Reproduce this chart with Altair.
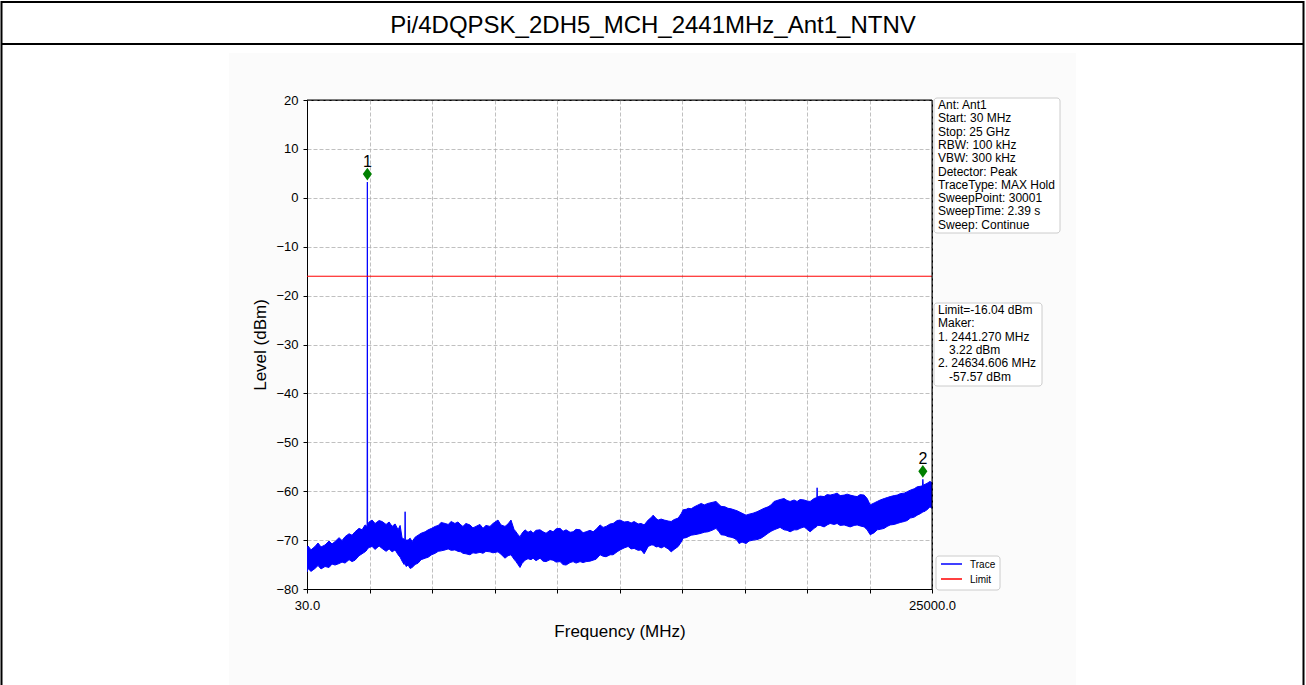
import altair as alt
import pandas as pd

FONT = "Liberation Sans"

# ---- text content -------------------------------------------------------
title_text = "Pi/4DQPSK_2DH5_MCH_2441MHz_Ant1_NTNV"
settings_lines = [
    "Ant: Ant1", "Start: 30 MHz", "Stop: 25 GHz", "RBW: 100 kHz", "VBW: 300 kHz",
    "Detector: Peak", "TraceType: MAX Hold", "SweepPoint: 30001",
    "SweepTime: 2.39 s", "Sweep: Continue",
]
legend_names = ["Trace", "Limit"]
trace_color = "#0000ff"
limit_color = "#ff0000"
marker_color = "#008000"

# ---- measurement data ---------------------------------------------------
# Max-hold trace envelope: frequency (MHz), upper and lower level (dBm)
freq_mhz = [
    30, 70, 190, 350, 470, 590, 750, 910, 1030, 1150, 1310, 1430, 1550, 1710, 1830,
    1950, 2110, 2230, 2350, 2430, 2441.27, 2452, 2510, 2630, 2750, 2910, 3030, 3190,
    3310, 3430, 3550, 3670, 3750, 3830, 3910, 3940, 3950, 3960, 3990, 4070, 4150,
    4230, 4350, 4470, 4590, 4750, 4870, 5010, 5150, 5270, 5390, 5550, 5670, 5790,
    5940, 6060, 6180, 6260, 6380, 6540, 6660, 6780, 6940, 7060, 7180, 7340, 7460,
    7660, 7780, 7940, 8060, 8180, 8300, 8380, 8460, 8540, 8620, 8740, 8860, 8980,
    9060, 9180, 9340, 9460, 9580, 9740, 9860, 9980, 10140, 10260, 10380, 10540,
    10660, 10780, 10940, 11060, 11180, 11340, 11460, 11580, 11740, 11860, 11980,
    12140, 12260, 12420, 12540, 12700, 12860, 12980, 13100, 13260, 13380, 13500,
    13660, 13780, 13860, 13980, 14060, 14180, 14300, 14460, 14580, 14700, 14860,
    14980, 15060, 15180, 15260, 15380, 15500, 15620, 15780, 15900, 16050, 16210,
    16370, 16490, 16570, 16730, 16850, 16970, 17090, 17210, 17290, 17410, 17570,
    17690, 17850, 18010, 18170, 18290, 18450, 18570, 18690, 18930, 19090, 19210,
    19330, 19490, 19610, 19730, 19890, 20010, 20130, 20290, 20400, 20410, 20420,
    20530, 20690, 20810, 20930, 21090, 21210, 21330, 21490, 21610, 21730, 21890,
    22010, 22130, 22290, 22410, 22530, 22690, 22810, 22930, 23090, 23210, 23330,
    23490, 23610, 23730, 23890, 24010, 24130, 24290, 24410, 24530, 24620, 24634.606,
    24650, 24680, 24800, 24920, 25000,
]
upper_dbm = [
    -71.8, -71.2, -72.0, -71.3, -70.6, -71.4, -71.0, -70.2, -70.8, -70.3, -69.5, -70.1,
    -69.3, -68.7, -69.0, -68.3, -67.6, -67.9, -66.9, -67.2, 3.22, -66.8, -66.3, -65.9,
    -66.6, -66.0, -66.2, -66.8, -66.3, -67.2, -66.7, -67.9, -67.0, -69.6, -69.8, -69.9,
    -64.2, -70.1, -70.0, -70.0, -69.6, -70.3, -69.4, -69.0, -68.6, -68.3, -67.9, -67.6,
    -67.2, -67.0, -66.4, -66.6, -66.8, -66.2, -66.6, -66.3, -66.9, -67.2, -66.6, -66.9,
    -67.5, -67.2, -66.8, -67.6, -67.0, -67.2, -66.6, -65.9, -66.9, -67.2, -66.7, -65.9,
    -67.8, -68.3, -68.9, -69.3, -68.6, -67.9, -68.4, -68.1, -68.6, -68.0, -67.9, -68.3,
    -68.6, -68.0, -68.3, -67.7, -67.6, -68.2, -67.9, -68.4, -68.3, -67.8, -67.9, -68.5,
    -68.3, -68.0, -68.3, -67.8, -66.9, -67.4, -67.2, -66.7, -66.6, -66.0, -65.9, -66.3,
    -66.2, -66.5, -66.2, -66.7, -66.6, -66.9, -65.9, -65.4, -64.9, -65.6, -65.9, -65.7,
    -65.9, -66.1, -66.2, -65.8, -65.5, -64.6, -63.8, -63.7, -63.5, -63.6, -63.2, -62.9,
    -62.5, -62.8, -62.5, -62.3, -62.1, -62.7, -63.1, -63.2, -63.5, -63.6, -63.8, -64.0,
    -64.2, -64.5, -64.9, -64.7, -64.5, -64.2, -63.8, -63.5, -63.2, -62.8, -62.1, -61.7,
    -61.5, -61.9, -62.1, -61.8, -62.1, -61.7, -61.8, -62.0, -62.1, -61.5, -61.3, -59.3,
    -61.2, -61.0, -61.1, -60.7, -60.8, -60.6, -60.4, -60.9, -60.8, -60.6, -60.8, -61.0,
    -61.1, -60.7, -60.8, -61.5, -62.8, -62.4, -62.1, -61.8, -61.5, -61.3, -61.1, -60.9,
    -60.8, -60.5, -60.4, -60.1, -59.8, -59.5, -59.1, -59.0, -58.9, -57.57, -58.8, -58.7,
    -58.4, -58.0, -58.3,
]
lower_dbm = [
    -76.5, -75.8, -76.4, -75.8, -75.2, -75.9, -75.4, -75.6, -74.9, -75.1, -74.8, -74.5,
    -74.7, -74.0, -74.4, -74.1, -73.2, -72.8, -72.4, -72.0, -71.6, -71.8, -71.5, -71.3,
    -71.9, -71.2, -71.7, -72.3, -71.8, -72.4, -72.0, -73.0, -73.5, -74.3, -75.0, -74.8,
    -74.6, -74.9, -75.4, -75.1, -75.8, -75.6, -75.0, -74.7, -74.0, -73.7, -73.5, -73.0,
    -72.7, -72.3, -72.2, -72.0, -71.8, -72.1, -72.0, -72.3, -72.4, -72.7, -72.8, -73.0,
    -72.6, -72.7, -72.5, -72.7, -72.3, -72.4, -72.6, -72.4, -72.9, -73.7, -73.2, -73.0,
    -73.9, -74.4, -75.0, -75.6, -74.8, -74.1, -73.8, -74.0, -73.7, -74.2, -73.7, -74.3,
    -74.4, -74.0, -74.1, -74.5, -74.4, -75.0, -75.1, -74.6, -74.4, -74.7, -74.4, -74.6,
    -74.4, -74.3, -74.1, -73.9, -73.0, -73.3, -73.4, -73.0, -73.0, -72.4, -72.0, -71.6,
    -71.3, -71.8, -71.7, -72.1, -72.0, -72.8, -71.3, -71.0, -71.0, -71.4, -71.3, -71.6,
    -71.3, -71.8, -72.4, -71.9, -71.3, -70.4, -69.6, -69.5, -69.3, -69.0, -68.9, -68.8,
    -68.6, -68.4, -68.3, -68.0, -67.6, -68.3, -68.9, -69.0, -69.3, -69.4, -69.6, -70.0,
    -70.7, -70.4, -70.7, -70.2, -70.0, -69.9, -69.6, -69.2, -68.6, -68.2, -67.9, -67.4,
    -67.9, -68.0, -68.3, -67.9, -67.9, -67.6, -67.3, -67.8, -68.3, -67.6, -67.2, -66.9,
    -67.0, -67.0, -67.3, -66.9, -66.6, -66.8, -66.6, -67.0, -66.9, -67.1, -67.3, -67.0,
    -66.9, -67.1, -67.3, -67.9, -68.9, -68.5, -67.9, -67.8, -67.6, -67.2, -66.9, -66.8,
    -66.6, -66.4, -66.2, -66.0, -65.5, -65.3, -64.9, -64.6, -64.3, -64.3, -64.2, -64.2,
    -63.8, -63.2, -63.5,
]

limit_dbm = -16.04
marker_freq = [2441.270, 24634.606]
marker_level = [3.22, -57.57]
marker_id = ["1", "2"]

x_ticks = [30, 2527, 5024, 7521, 10018, 12515, 15012, 17509, 20006, 22503, 25000]
y_ticks = [-80, -70, -60, -50, -40, -30, -20, -10, 0, 10, 20]

# marker read-out panel: (text, indented?)
marker_lines = [(f"Limit={limit_dbm:.2f} dBm", False), ("Maker:", False)]
for i, (f, lv) in enumerate(zip(marker_freq, marker_level), start=1):
    marker_lines.append((f"{i}. {f:.3f} MHz", False))
    marker_lines.append((f"{lv:.2f} dBm", True))

# ---- layout (plot area 625 x 489, origin at page 307,100) -------------
W, H = 625, 489
PAD = {"left": 307, "top": 100, "right": 374, "bottom": 96}

trace_df = pd.DataFrame({"freq": freq_mhz, "upper": upper_dbm, "lower": lower_dbm})
marker_df = pd.DataFrame({"freq": marker_freq, "level": marker_level, "id": marker_id})
limit_df = pd.DataFrame({"limit": [limit_dbm]})

x_scale = alt.Scale(domain=[30, 25000], nice=False, zero=False)
y_scale = alt.Scale(domain=[-80, 20], nice=False, zero=False)
x_axis = alt.Axis(
    values=x_ticks, title="Frequency (MHz)",
    labelExpr="datum.value == 30 || datum.value == 25000 ? format(datum.value, '.1f') : ''",
    labelOverlap=False, labelFlush=False, labelPadding=6, titlePadding=11)
y_axis = alt.Axis(values=y_ticks, format="d", title="Level (dBm)",
                  labelPadding=5, titlePadding=6)


def X(field):
    return alt.X(field, type="quantitative", scale=x_scale, axis=x_axis)


def Y(field):
    return alt.Y(field, type="quantitative", scale=y_scale, axis=y_axis)


one = alt.Data(values=[{}])


def rect(x, x2, y, y2, **kw):
    return alt.Chart(one).mark_rect(**kw).encode(
        x=alt.value(x), x2=alt.value(x2), y=alt.value(y), y2=alt.value(y2))


def rule(x, x2, y, y2, **kw):
    return alt.Chart(one).mark_rule(**kw).encode(
        x=alt.value(x), x2=alt.value(x2), y=alt.value(y), y2=alt.value(y2))


def text(x, y, s, **kw):
    return alt.Chart(one).mark_text(font=FONT, text=s, color="black", **kw).encode(
        x=alt.value(x), y=alt.value(y))


# white page outside the figure canvas
page = alt.layer(
    rect(-307, 999, -100, -47, fill="white"),
    rect(-307, -78, -47, 585, fill="white"),
    rect(769, 999, -47, 585, fill="white"),
)

# table frame with title row
frame = alt.layer(
    rule(-306, 997, -98, -98, color="black", strokeWidth=2),
    rule(-306, 997, -56, -56, color="black", strokeWidth=2),
    rule(-305.5, -305.5, -99, 585, color="black", strokeWidth=2),
    rule(996.5, 996.5, -99, 585, color="black", strokeWidth=2),
    text(346, -67, title_text, fontSize=24, align="center", baseline="alphabetic"),
)

trace = alt.Chart(trace_df).mark_area(
    color=trace_color, stroke=trace_color, strokeWidth=1, clip=True
).encode(x=X("freq"), y=Y("upper"), y2="lower")

limit = alt.Chart(limit_df).mark_rule(color=limit_color, strokeWidth=1).encode(
    y=Y("limit"))

# solid plot border drawn over the dashed grid ends
plot_border = alt.layer(
    rule(0, W, 0, 0, color="black", strokeWidth=1),
    rule(W, W, 0, H, color="black", strokeWidth=1),
)

markers = alt.Chart(marker_df).mark_point(
    shape="M0,-1L0.72,0L0,1L-0.72,0Z", size=160, filled=True, opacity=1,
    color=marker_color, yOffset=-8
).encode(x=X("freq"), y=Y("level"))

marker_text = alt.Chart(marker_df).mark_text(
    font=FONT, fontSize=16, baseline="alphabetic", align="center", dy=-15, color="black"
).encode(x=X("freq"), y=Y("level"), text="id:N")

# info panels to the right of the plot
LINE = 13.3
panel_layers = [
    rect(627, 753, -2, 133, fill="white", stroke="#cccccc", strokeWidth=1, cornerRadius=3),
]
for i, s in enumerate(settings_lines):
    panel_layers.append(text(631, 9 + i * LINE, s, fontSize=12, align="left",
                             baseline="alphabetic"))
panel_layers.append(
    rect(627, 735, 203, 286, fill="white", stroke="#cccccc", strokeWidth=1, cornerRadius=3))
for i, (s, indent) in enumerate(marker_lines):
    panel_layers.append(text(631 + (11 if indent else 0), 214 + i * LINE, s, fontSize=12,
                             align="left", baseline="alphabetic"))
panel_layers += [
    rect(629, 693, 456, 490, fill="white", stroke="#cccccc", strokeWidth=1, cornerRadius=3),
    rule(634, 655, 464, 464, color=trace_color, strokeWidth=1.5),
    rule(634, 655, 479, 479, color=limit_color, strokeWidth=1.5),
    text(663, 467.5, legend_names[0], fontSize=10, align="left", baseline="alphabetic"),
    text(663, 482.5, legend_names[1], fontSize=10, align="left", baseline="alphabetic"),
]
panels = alt.layer(*panel_layers)

chart = alt.layer(
    page, frame, trace, limit, plot_border, markers, marker_text, panels
).properties(
    width=W, height=H, padding=PAD,
    autosize=alt.AutoSizeParams(type="none"),
    background="#fbfbfb",
).configure_view(
    fill="white", stroke="black", strokeWidth=1
).configure_axis(
    labelFont=FONT, titleFont=FONT, labelFontSize=13, titleFontSize=17,
    labelColor="black", titleColor="black", titleFontWeight="normal",
    domainColor="black", tickColor="black", tickSize=4, domainWidth=1,
    grid=True, gridColor="#b0b0b0", gridDash=[4, 2], gridWidth=0.8,
)

chart.save("out.html", embed_options={"renderer": "svg", "actions": False})
